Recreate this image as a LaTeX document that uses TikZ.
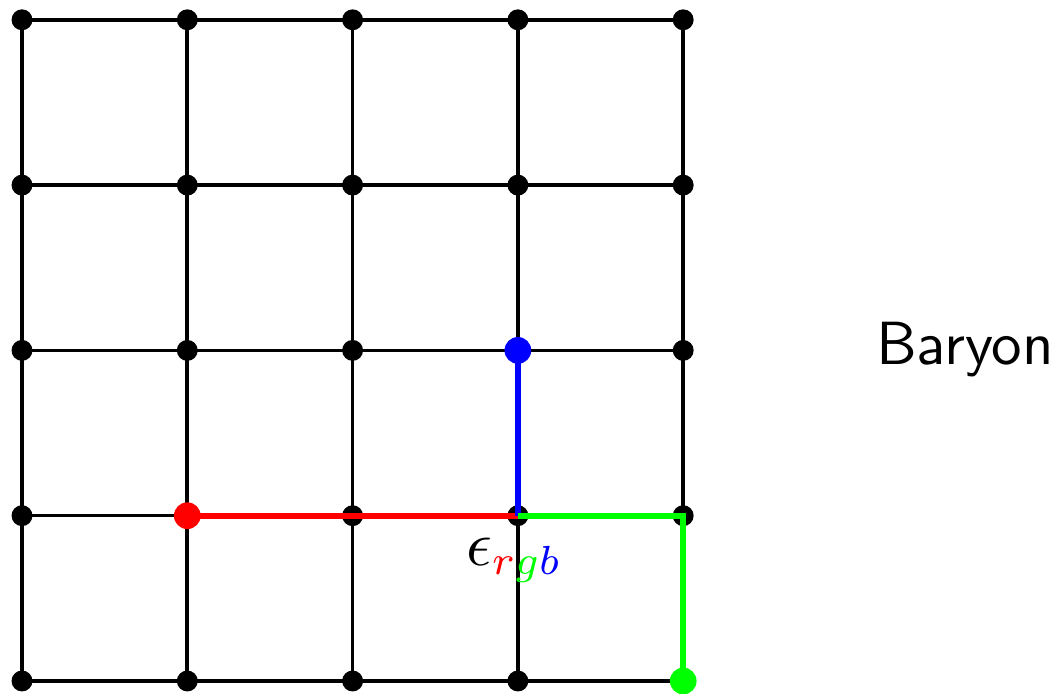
\documentclass[tikz,border=0pt]{standalone}
\usepackage{xcolor}
\definecolor{qred}{RGB}{255,0,0}
\definecolor{qgreen}{RGB}{0,255,0}
\definecolor{qblue}{RGB}{0,0,255}
\tikzset{
  link/.style={line width=0.62pt, black},
  site/.style={circle, fill=black, inner sep=0pt, minimum size=3.6pt},
  quark/.style={circle, inner sep=0pt, minimum size=4.6pt},
  flux/.style={line width=1.0pt, line join=miter},
}
\begin{document}
\begin{tikzpicture}
  \useasboundingbox (-0.1331,-0.0786) rectangle (6.2916,4.1198);
  % lattice sites
  \foreach \i in {0,...,4}
    \foreach \j in {0,...,4}
      \coordinate (p-\i-\j) at (\i,\j);
  % lattice links
  \foreach \k in {0,...,4} {
    \draw[link] (p-0-\k) -- (p-4-\k);
    \draw[link] (p-\k-0) -- (p-\k-4);
  }
  \foreach \i in {0,...,4}
    \foreach \j in {0,...,4}
      \node[site] (s-\i-\j) at (p-\i-\j) {};
  % colour flux lines meeting at the epsilon vertex
  \draw[flux, qred]   (s-1-1.center) -- (s-3-1.center);
  \draw[flux, qblue]  (s-3-2.center) -- (s-3-1.center);
  \draw[flux, qgreen] (s-3-1.center) -- (s-4-1.center) -- (s-4-0.center);
  % quarks
  \node[quark, fill=qred]   (qr) at (p-1-1) {};
  \node[quark, fill=qblue]  (qb) at (p-3-2) {};
  \node[quark, fill=qgreen] (qg) at (p-4-0) {};
  % labels
  \node[anchor=base west, inner sep=0pt, font=\fontsize{10.5}{12}\selectfont] (eps) at (2.680,0.7017)
    {$\epsilon_{\color{qred}r\color{qgreen}g\color{qblue}b}$};
  \node[anchor=base west, inner sep=0pt, font=\sffamily\fontsize{10.5}{12.5}\selectfont] (lbl) at (5.160,1.912) {Baryon};
\end{tikzpicture}
\end{document}
